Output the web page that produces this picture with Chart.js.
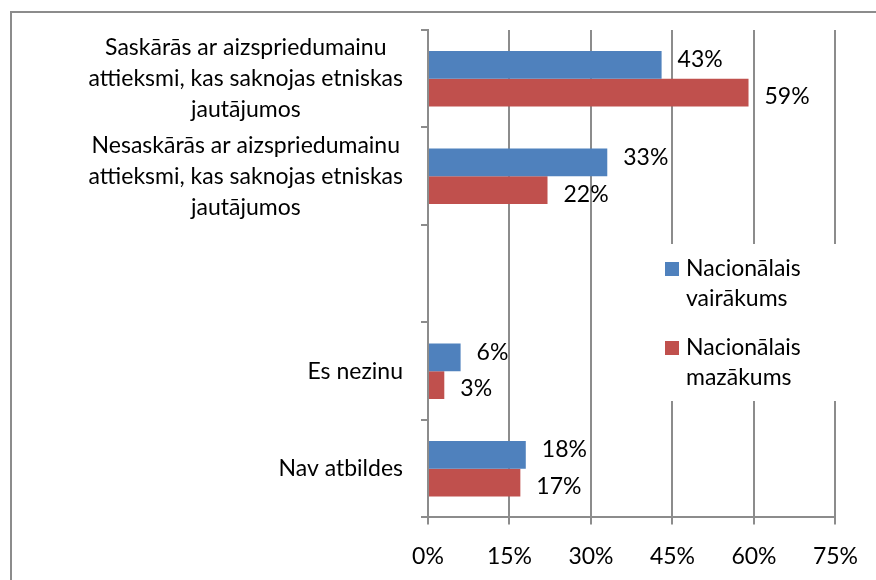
<!DOCTYPE html>
<html>
<head>
<meta charset="utf-8">
<script src="https://cdn.jsdelivr.net/npm/chart.js@4.4.0/dist/chart.umd.min.js"></script>
<style>
  html, body { margin: 0; padding: 0; background: #ffffff; }
  #wrap { position: relative; width: 876px; height: 580px; }
  canvas { display: block; }
</style>
</head>
<body>
<div id="wrap"><canvas id="c" width="876" height="580"></canvas></div>
<script>
// ---- data ----
const categories = [
  ["Saskārās ar aizspriedumainu", "attieksmi, kas saknojas etniskas", "jautājumos"],
  ["Nesaskārās ar aizspriedumainu", "attieksmi, kas saknojas etniskas", "jautājumos"],
  "",
  "Es nezinu",
  "Nav atbildes"
];
const seriesNames = [["Nacionālais", "vairākums"], ["Nacionālais", "mazākums"]];
const majorityValues = [43, 33, null, 6, 18];
const minorityValues = [59, 22, null, 3, 17];
const xTicks = [0, 15, 30, 45, 60, 75];

const FONT = "Lato";
const FS = 23;
const GRID = "#8c8c8c";

const frame = {
  id: "frame",
  beforeDraw(chart) {
    const ctx = chart.ctx;
    ctx.save();
    ctx.strokeStyle = GRID;
    ctx.lineWidth = 2;
    ctx.beginPath();
    ctx.moveTo(11, 580);
    ctx.lineTo(11, 12);
    ctx.lineTo(876, 12);
    ctx.stroke();
    ctx.restore();
  }
};

const yLabels = {
  id: "yLabels",
  afterDraw(chart) {
    const ctx = chart.ctx;
    const y = chart.scales.y;
    const rightEdge = chart.chartArea.left - 25;
    ctx.save();
    ctx.font = FS + "px " + FONT;
    ctx.fillStyle = "#000";
    ctx.textBaseline = "middle";
    let widest = 0;
    categories.forEach(c => {
      (Array.isArray(c) ? c : [c]).forEach(l => { widest = Math.max(widest, ctx.measureText(l).width); });
    });
    const lh = 31;
    categories.forEach((c, i) => {
      const cy = y.getPixelForValue(i);
      if (Array.isArray(c)) {
        ctx.textAlign = "center";
        const cx = rightEdge - widest / 2;
        c.forEach((l, k) => ctx.fillText(l, cx, cy + (k - (c.length - 1) / 2) * lh));
      } else if (c) {
        ctx.textAlign = "right";
        ctx.fillText(c, rightEdge, cy);
      }
    });
    ctx.restore();
  }
};

const valueLabels = {
  id: "valueLabels",
  afterDatasetsDraw(chart) {
    const ctx = chart.ctx;
    ctx.save();
    ctx.font = FS + "px " + FONT;
    ctx.fillStyle = "#000";
    ctx.textBaseline = "middle";
    ctx.textAlign = "left";
    chart.data.datasets.forEach((ds, di) => {
      const meta = chart.getDatasetMeta(di);
      meta.data.forEach((bar, i) => {
        const v = ds.data[i];
        if (v === null || v === undefined) return;
        const dy = di === 0 ? -5 : 4;
        ctx.fillText(v + "%", bar.x + 16, bar.y + dy);
      });
    });
    ctx.restore();
  }
};

const legendBox = {
  id: "legendBox",
  afterDraw(chart) {
    const ctx = chart.ctx;
    ctx.save();
    ctx.fillStyle = "#fff";
    ctx.fillRect(652, 244, 210, 157);
    ctx.font = FS + "px " + FONT;
    ctx.textBaseline = "middle";
    ctx.textAlign = "left";
    const tops = [269, 348];
    chart.data.datasets.forEach((ds, di) => {
      const t = tops[di];
      ctx.fillStyle = ds.backgroundColor;
      ctx.fillRect(665, t - 7, 14, 14);
      ctx.fillStyle = "#000";
      const lines = Array.isArray(ds.label) ? ds.label : [ds.label];
      lines.forEach((l, k) => ctx.fillText(l, 686, t + k * 30));
    });
    ctx.restore();
  }
};

new Chart(document.getElementById("c"), {
  type: "bar",
  data: {
    labels: categories,
    datasets: [
      { label: seriesNames[0], data: majorityValues, backgroundColor: "#4f81bd", borderWidth: 0 },
      { label: seriesNames[1], data: minorityValues, backgroundColor: "#c0504d", borderWidth: 0 }
    ]
  },
  options: {
    indexAxis: "y",
    responsive: false,
    animation: false,
    events: [],
    layout: { padding: { left: 421, top: 30, right: 37, bottom: -8 } },
    datasets: { bar: { categoryPercentage: 0.57, barPercentage: 1.0 } },
    plugins: { legend: { display: false }, tooltip: { enabled: false } },
    scales: {
      x: {
        min: 0, max: 75,
        afterBuildTicks(s) { s.ticks = xTicks.map(v => ({ value: v })); },
        ticks: {
          callback: v => v + "%",
          font: { family: FONT, size: FS },
          color: "#000",
          padding: 18,
          maxRotation: 0
        },
        grid: { color: GRID, lineWidth: 2, tickLength: 7, drawTicks: true },
        border: { color: GRID, width: 2 }
      },
      y: {
        ticks: { display: false },
        grid: { drawOnChartArea: false, color: GRID, lineWidth: 2, tickLength: 7, offset: true },
        border: { color: GRID, width: 2 }
      }
    }
  },
  plugins: [frame, valueLabels, yLabels, legendBox]
});
</script>
</body>
</html>
